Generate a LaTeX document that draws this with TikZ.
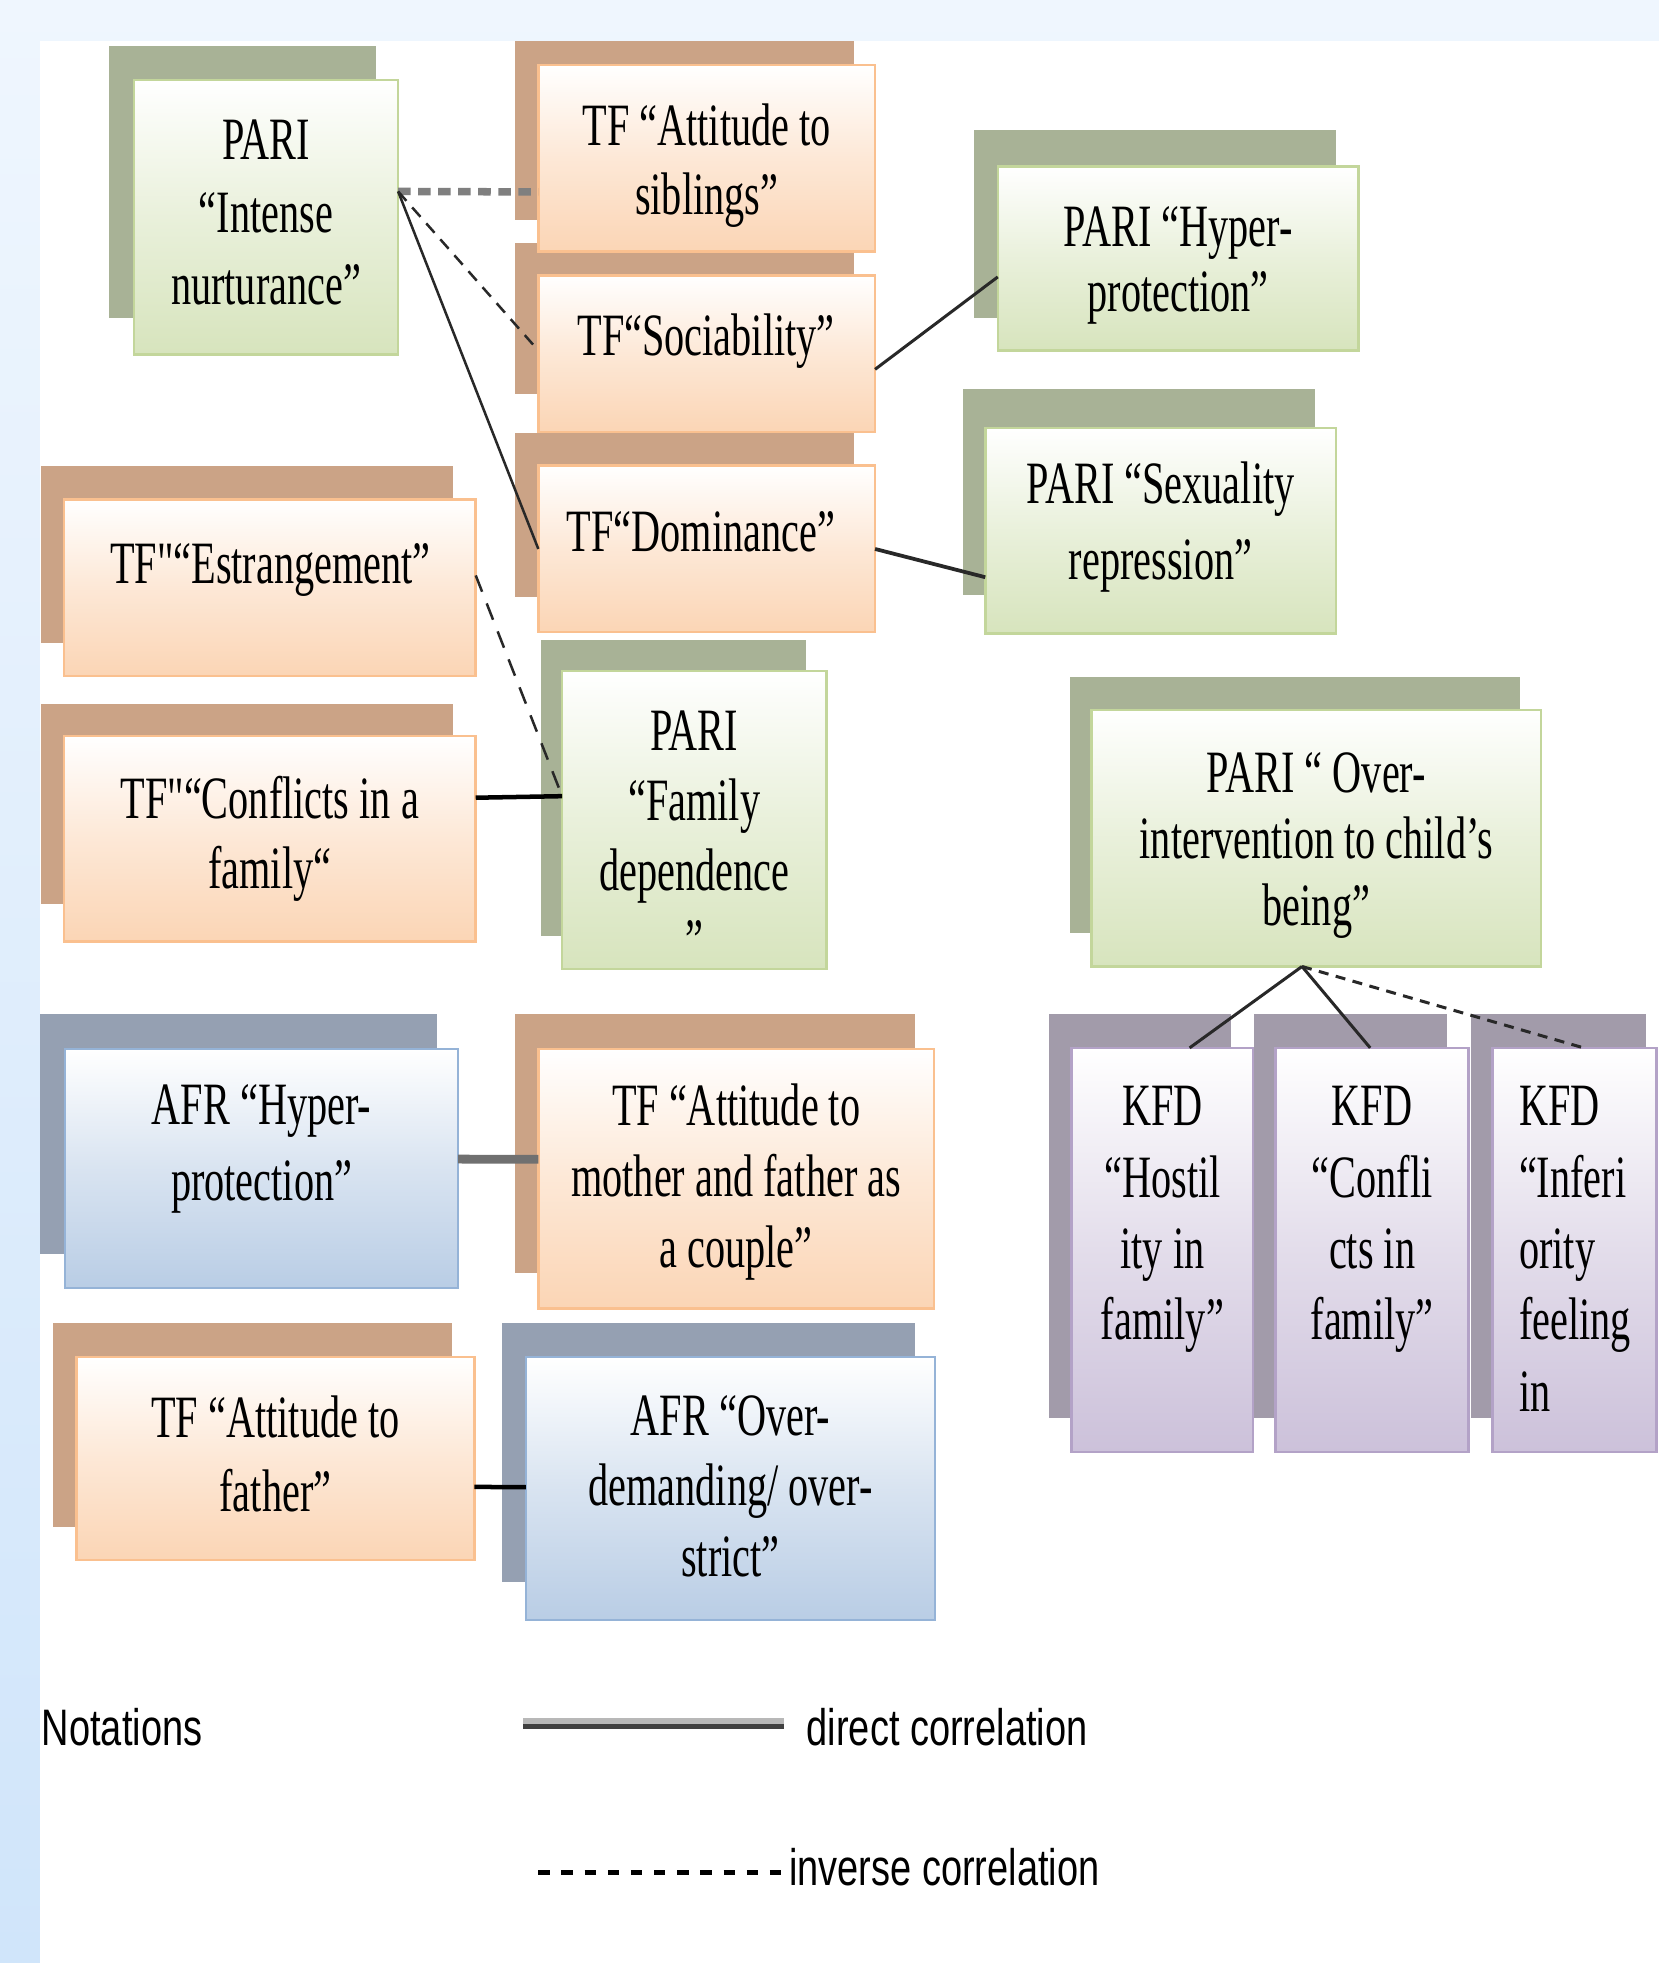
\documentclass[tikz,border=0pt]{standalone}
\usepackage{fontspec}
\usetikzlibrary{calc}
\newfontfamily\boxfont[FakeStretch=0.67]{Liberation Serif}
\newfontfamily\legfont[FakeStretch=0.74]{Liberation Sans}
\definecolor{bgtop}{RGB}{239,246,254}
\definecolor{bgbot}{RGB}{208,229,250}
\definecolor{osh}{RGB}{203,163,134}
\definecolor{obot}{RGB}{251,213,181}
\definecolor{obrd}{RGB}{250,192,143}
\definecolor{gsh}{RGB}{168,178,150}
\definecolor{gbot}{RGB}{215,228,189}
\definecolor{gbrd}{RGB}{195,214,155}
\definecolor{bsh}{RGB}{149,160,178}
\definecolor{bbot}{RGB}{185,205,229}
\definecolor{bbrd}{RGB}{149,179,215}
\definecolor{psh}{RGB}{162,155,170}
\definecolor{pbot}{RGB}{204,193,218}
\definecolor{pbrd}{RGB}{179,162,199}
\definecolor{lgray}{RGB}{127,127,127}
\definecolor{mgray}{RGB}{112,112,112}
\definecolor{dline}{RGB}{40,40,40}
\newcommand\bxf[1]{\boxfont\fontsize{24pt}{#1pt}\selectfont}
\newcommand\mkbox[6]{\node[#1, minimum width={(#5-#3)*0.5pt}, minimum height={(#6-#4)*0.5pt}] (#2) at (#3,#4) {};}
\newcommand\mkshadow[5]{\fill[#1] (#2,#3) rectangle (#4,#5);}
\begin{document}
\begin{tikzpicture}[x=0.5pt,y=-0.5pt,
  frontbox/.style={rectangle, inner sep=0pt, outer sep=0pt, anchor=north west, line width=1pt},
  ofront/.style={frontbox, draw=obrd, top color=white, bottom color=obot, middle color=obot!55!white},
  gfront/.style={frontbox, draw=gbrd, top color=white, bottom color=gbot, middle color=gbot!55!white},
  bfront/.style={frontbox, draw=bbrd, top color=white, bottom color=bbot, middle color=bbot!55!white},
  pfront/.style={frontbox, draw=pbrd, top color=white, bottom color=pbot, middle color=pbot!55!white},
  btext/.style={align=center, inner sep=0pt, anchor=north, text=black},
  legtext/.style={font=\legfont\fontsize{20.5pt}{24pt}\selectfont, inner sep=0pt, text=black, anchor=base west},
  dirline/.style={draw=dline, line width=1pt},
  invline/.style={draw=dline, line width=1pt, dash pattern=on 5pt off 3.5pt},
  graydot/.style={draw=lgray, line width=3pt, dash pattern=on 5pt off 3pt},
]
\useasboundingbox (0,0) rectangle (1325,1568);
\shade[top color=bgtop, bottom color=bgbot] (0,0) rectangle (1325,1568);
\fill[white] (32,33) rectangle (1325,1568);

% shadows
\mkshadow{gsh}{87}{37}{300}{254}
\mkshadow{osh}{411}{33}{682}{176}
\mkshadow{osh}{411}{194}{682}{315}
\mkshadow{osh}{411}{346}{682}{477}
\mkshadow{gsh}{778}{104}{1067}{254}
\mkshadow{gsh}{769}{311}{1050}{475}
\mkshadow{osh}{33}{372}{362}{514}
\mkshadow{osh}{33}{562}{362}{722}
\mkshadow{gsh}{432}{511}{644}{748}
\mkshadow{gsh}{855}{541}{1214}{745}
\mkshadow{psh}{838}{810}{983}{1133}
\mkshadow{psh}{1002}{810}{1156}{1133}
\mkshadow{psh}{1175}{810}{1315}{1133}
\mkshadow{bsh}{32}{810}{349}{1002}
\mkshadow{osh}{411}{810}{731}{1017}
\mkshadow{osh}{42}{1057}{361}{1220}
\mkshadow{bsh}{401}{1057}{731}{1264}

% front boxes
\mkbox{gfront}{intense}{107}{64}{318}{283}
\mkbox{ofront}{sibl}{430}{52}{699}{201}
\mkbox{ofront}{soc}{430}{220}{699}{345}
\mkbox{ofront}{dom}{430}{372}{699}{505}
\mkbox{gfront}{hyper}{797}{133}{1085}{280}
\mkbox{gfront}{sex}{787}{342}{1067}{506}
\mkbox{ofront}{estr}{51}{399}{380}{540}
\mkbox{ofront}{confl}{51}{588}{380}{752}
\mkbox{gfront}{famdep}{449}{536}{660}{774}
\mkbox{gfront}{over}{872}{567}{1231}{772}
\mkbox{pfront}{kfd1}{856}{837}{1001}{1160}
\mkbox{pfront}{kfd2}{1019}{837}{1173}{1160}
\mkbox{pfront}{kfd3}{1192}{837}{1323}{1160}
\mkbox{bfront}{afrh}{52}{838}{366}{1029}
\mkbox{ofront}{moth}{430}{838}{746}{1045}
\mkbox{ofront}{fath}{61}{1084}{379}{1246}
\mkbox{bfront}{afro}{420}{1084}{747}{1294}

% texts
\node[btext, font=\bxf{29}] (intense-t) at (212.5,95.5) {PARI\\“Intense\\nurturance”};
\node[btext, font=\bxf{27.5}] (sibl-t) at (564.5,82.5) {TF “Attitude to\\siblings”};
\node[btext, font=\bxf{28}] (soc-t) at (564,250.5) {TF“Sociability”};
\node[btext, font=\bxf{28}] (dom-t) at (560,408.5) {TF“Dominance”};
\node[btext, font=\bxf{26}] (hyper-t) at (941,164.5) {PARI “Hyper-\\protection”};
\node[btext, font=\bxf{30.5}] (sex-t) at (927,368.5) {PARI “Sexuality\\repression”};
\node[btext, font=\bxf{28}] (estr-t) at (216,433.5) {TF"“Estrangement”};
\node[btext, font=\bxf{28}] (confl-t) at (215.5,619.5) {TF"“Conflicts in a\\family“};
\node[btext, font=\bxf{28}] (famdep-t) at (554.5,567.5) {PARI\\“Family\\dependence\\”};
\node[btext, font=\bxf{26.5}] (over-t) at (1051.5,600.5) {PARI “ Over-\\intervention to child’s\\being”};
\node[btext, font=\bxf{28.5}] (kfd1-t) at (928.5,867.5) {KFD\\“Hostil\\ity in\\family”};
\node[btext, font=\bxf{28.5}] (kfd2-t) at (1096,867.5) {KFD\\“Confli\\cts in\\family”};
\node[btext, font=\bxf{28.5}, align=left, anchor=north west] (kfd3-t) at (1213,867.5) {KFD\\“Inferi\\ority\\feeling\\in};
\node[btext, font=\bxf{30.5}] (afrh-t) at (209,865.5) {AFR “Hyper-\\protection”};
\node[btext, font=\bxf{28.25}] (moth-t) at (588,865.5) {TF “Attitude to\\mother and father as\\a couple”};
\node[btext, font=\bxf{29.5}] (fath-t) at (220,1114.5) {TF “Attitude to\\father”};
\node[btext, font=\bxf{28}] (afro-t) at (583.5,1114.5) {AFR “Over-\\demanding/ over-\\strict”};

% connectors
\draw[graydot] ($(intense.north east)!0.406!(intense.south east)$) -- ($(sibl.north west)!0.68!(sibl.south west)$);
\draw[invline] ($(intense.north east)!0.406!(intense.south east)$) -- ($(soc.north west)!0.48!(soc.south west)$);
\draw[dirline] ($(intense.north east)!0.406!(intense.south east)$) -- (dom.west);
\draw[dirline, line width=1.2pt] ($(soc.north east)!0.6!(soc.south east)$) -- ($(hyper.north west)!0.6!(hyper.south west)$);
\draw[dirline, line width=1.5pt] (dom.east) -- ($(sex.north west)!0.726!(sex.south west)$);
\draw[invline, dash pattern=on 7pt off 5pt] ($(estr.north east)!0.43!(estr.south east)$) -- ($(famdep.north west)!0.42!(famdep.south west)$);
\draw[dirline, draw=black, line width=1.8pt] ($(confl.north east)!0.3!(confl.south east)$) -- ($(famdep.north west)!0.42!(famdep.south west)$);
\draw[dirline, line width=1.2pt] ($(over.south west)!0.468!(over.south east)$) -- ($(kfd1.north west)!0.65!(kfd1.north east)$);
\draw[dirline, line width=1.2pt] ($(over.south west)!0.468!(over.south east)$) -- ($(kfd2.north west)!0.49!(kfd2.north east)$);
\draw[invline, line width=1.2pt, dash pattern=on 4pt off 3pt] ($(over.south west)!0.468!(over.south east)$) -- ($(kfd3.north west)!0.557!(kfd3.north east)$);
\draw[draw=mgray, line width=3.5pt] ($(afrh.north east)!0.46!(afrh.south east)$) -- ($(moth.north west)!0.425!(moth.south west)$);
\draw[dirline, draw=black, line width=1.8pt] ($(fath.north east)!0.64!(fath.south east)$) -- ($(afro.north west)!0.495!(afro.south west)$);

% legend
\node[legtext] (notations) at (33,1394) {Notations};
\node[legtext] (direct) at (644,1394) {direct correlation};
\node[legtext] (inverse) at (630,1506) {inverse correlation};
\coordinate (la) at (418,1374.5);
\coordinate (lb) at (626,1374.5);
\coordinate (lc) at (418,1379);
\coordinate (ld) at (626,1379);
\coordinate (le) at (430,1496);
\coordinate (lf) at (624,1496);
\draw[draw=black!28, line width=2.5pt] (la) -- (lb);
\draw[draw=black!75, line width=2pt] (lc) -- (ld);
\draw[draw=black, line width=2pt, dash pattern=on 4.5pt off 4.75pt] (le) -- (lf);
\end{tikzpicture}
\end{document}
